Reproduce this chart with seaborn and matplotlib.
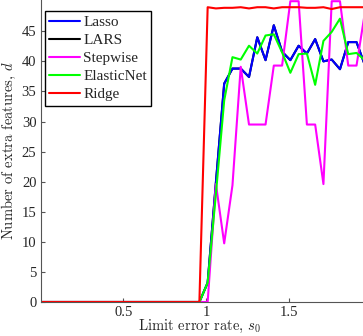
import pandas as pd
import matplotlib
matplotlib.use("Agg")
import matplotlib.pyplot as plt
import seaborn as sns

# limit error rate grid (flat zero part only needs its end points)
s0 = [0.01, 0.96, 1.01, 1.06, 1.11, 1.16, 1.21, 1.26, 1.31, 1.36, 1.41, 1.46,
      1.51, 1.56, 1.61, 1.66, 1.71, 1.76, 1.81, 1.86, 1.91, 1.96]

lasso = [0, 0, 3.2, 19.9, 36.3, 38.8, 38.8, 37.4, 44.0, 40.2, 46.0, 41.6,
         40.2, 42.6, 41.3, 43.7, 40.0, 40.3, 38.7, 43.2, 43.2, 39.4]
lars = [0, 0, 3.2, 19.9, 36.3, 38.8, 38.8, 37.4, 44.0, 40.2, 46.0, 41.6,
        40.2, 42.6, 41.3, 43.7, 40.0, 40.3, 38.7, 43.2, 43.2, 39.4]
stepwise = [0, 0, 0, 19.6, 9.75, 19.4, 39.1, 29.5, 29.5, 29.5, 39.3, 39.3,
            50, 50, 29.5, 29.5, 19.6, 50, 50, 39.3, 39.3, 48]
elasticnet = [0, 0, 3.2, 18.0, 33.5, 40.7, 40.3, 42.6, 41.3, 44.3, 44.5, 41.5,
              38.1, 41.2, 41.3, 36.1, 43.4, 44.9, 47.1, 41.2, 41.4, 40.2]
ridge = [0, 0, 49.0, 48.8, 48.9, 48.9, 49.0, 48.8, 49.0, 49.0, 48.8, 49.0,
         49.0, 49.0, 48.9, 48.9, 49.0, 48.7, 49.0, 49.0, 49.0, 49.0]

methods = ["Lasso", "LARS", "Stepwise", "ElasticNet", "Ridge"]
colors = ["#0000ff", "#000000", "#ff00ff", "#00ff00", "#ff0000"]

series = [lasso, lars, stepwise, elasticnet, ridge]
df = pd.concat([pd.DataFrame({"s0": s0, "d": vals, "method": name})
                for name, vals in zip(methods, series)], ignore_index=True)

sns.set_style("ticks")
plt.rcParams["font.family"] = ["Liberation Serif", "DejaVu Serif"]
plt.rcParams["mathtext.fontset"] = "cm"

fig = plt.figure(figsize=(3.63, 3.36), dpi=100)
ax = fig.add_axes([40.6 / 363, 34 / 336, 330.8 / 363, 302 / 336])

sns.lineplot(data=df, x="s0", y="d", hue="method", hue_order=methods,
             palette=dict(zip(methods, colors)), linewidth=1.5, ax=ax,
             estimator=None, sort=False)
# LARS coincides with Lasso and sits underneath it
ax.lines[1].set_zorder(1.5)

ax.set_xlim(0, 2)
ax.set_ylim(0, 50.2)
ax.set_xticks([0.5, 1, 1.5])
ax.set_xticklabels(["0.5", "1", "1.5"])
ax.set_yticks(range(0, 50, 5))
ax.tick_params(direction="in", length=3, width=0.8, color="#555555",
               labelsize=10.5, pad=3)
for side in ["top", "right"]:
    ax.spines[side].set_visible(False)
for side in ["left", "bottom"]:
    ax.spines[side].set_color("#555555")
    ax.spines[side].set_linewidth(0.8)

ax.set_xlabel("Limit error rate, $s_0$", fontsize=10.5, family="cmr10", labelpad=0)
ax.xaxis.set_label_coords(0.479, -0.053)
ax.set_ylabel("Number of extra features, $d$", fontsize=10.5, family="cmr10", labelpad=3)

leg = ax.legend(loc="upper left", bbox_to_anchor=(0.013, 0.964), borderaxespad=0,
                fontsize=11, handlelength=2.0, handletextpad=0.2,
                labelspacing=0.28, borderpad=0.3, fancybox=False, framealpha=1)
leg.get_frame().set_edgecolor("black")
leg.get_frame().set_linewidth(1.0)

fig.savefig("out.png", dpi=100)
